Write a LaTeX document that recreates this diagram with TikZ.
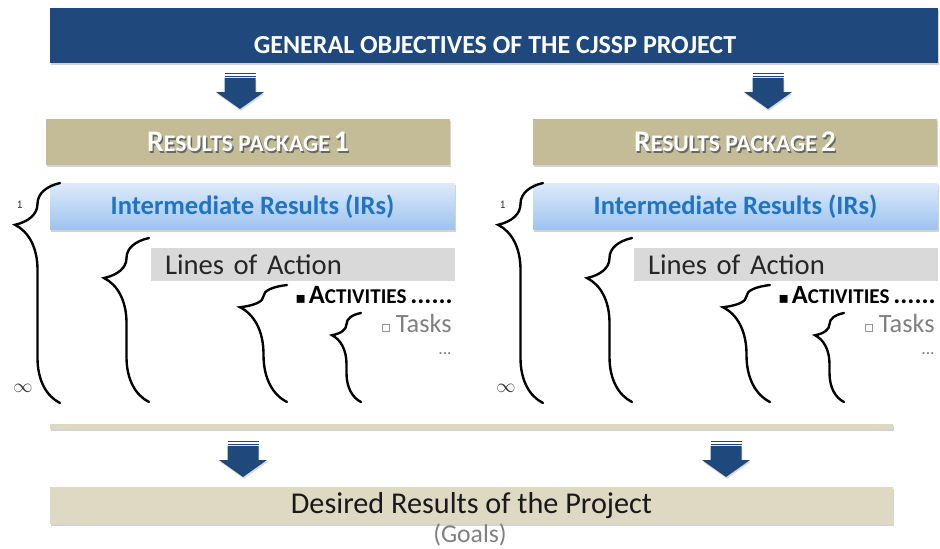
\documentclass[tikz,border=0pt]{standalone}
\usepackage{fontspec}
\setmainfont{Carlito}
\newfontfamily\symfont{DejaVu Sans}
\usepackage{tikz}
\usetikzlibrary{positioning,calc,shadows,decorations.pathreplacing}
\definecolor{objblue}{HTML}{1F497D}
\definecolor{pkgtan}{HTML}{C4BC96}
\definecolor{lighttan}{HTML}{DDD9C3}
\definecolor{irtop}{HTML}{DDEAFB}
\definecolor{irbottom}{HTML}{9DC3EF}
\definecolor{irtext}{HTML}{1F74C6}
\definecolor{loagrey}{HTML}{D9D9D9}
\definecolor{taskgrey}{HTML}{808080}
\newcommand\fsize[1]{\fontsize{#1}{#1}\selectfont}
\newcommand\pkgtitle[1]{\bfseries{\fsize{17}R}{\fsize{13.5}ESULTS PACKAGE} {\fsize{17}#1}}
\tikzset{
  boxshadow/.style={drop shadow={shadow xshift=0.6pt,shadow yshift=-1.3pt,opacity=0.35}},
  objbox/.style ={rectangle,fill=objblue,boxshadow,minimum width=17.76cm,minimum height=1.1cm,inner sep=0pt},
  objtext/.style={text=white,font=\fsize{14.8}\bfseries},
  pkbox/.style  ={rectangle,fill=pkgtan,boxshadow,minimum width=8.08cm,minimum height=0.92cm,inner sep=0pt},
  pktext/.style ={text=white,inner sep=0pt},
  irbox/.style  ={rectangle,top color=irtop,bottom color=irbottom,boxshadow,minimum width=8.1cm,minimum height=0.94cm,
                  inner sep=0pt,text=irtext,font=\fsize{15.1}\bfseries},
  loabox/.style ={rectangle,fill=loagrey,minimum height=0.66cm,inner xsep=0.28cm,inner ysep=0pt,
                  text width=5.52cm,align=left,text=black!85,font=\fsize{16.3}},
  acttext/.style ={anchor=east,inner sep=0pt,text=black},
  tasktext/.style={anchor=east,inner sep=0pt,text=taskgrey,font=\fsize{15}},
  rangelbl/.style={inner sep=0pt,text=black!80},
  barbox/.style ={rectangle,fill=lighttan,boxshadow,minimum width=16.86cm,minimum height=0.1cm,inner sep=0pt},
  goalbox/.style={rectangle,fill=lighttan,boxshadow,minimum width=16.86cm,minimum height=0.74cm,inner sep=0pt,
                  text=black!90,font=\fsize{17.2}},
  goaltext/.style={text=taskgrey,font=\fsize{14.6},inner sep=0pt},
  cbrace/.style args={#1/#2}{decorate,decoration={brace,amplitude=#1,aspect=#2},line width=1.35pt,line cap=round},
  pics/downarr/.style={code={
    \fill[objblue] (-15.5,0) rectangle (15.5,1.3);
    \fill[objblue] (-15.5,2.5) rectangle (15.5,3.8);
    \fill[objblue,drop shadow={shadow xshift=0.5pt,shadow yshift=-1pt,opacity=0.3}]
      (-15.5,4.8) -- (15.5,4.8) -- (15.5,19) -- (24,19) -- (0,36) -- (-24,19) -- (-15.5,19) -- cycle;
  }},
}

\begin{document}
\begin{tikzpicture}[x=0.02cm,y=-0.02cm]
  \useasboundingbox (0,0) rectangle (940,548);

  % objectives banner
  \node[objbox] (obj) at (494,35.5) {};
  \node[objtext] (objt) at (495,45) {GENERAL OBJECTIVES OF THE CJSSP PROJECT};
  \pic at (240,73) {downarr};
  \pic at (768,73) {downarr};

  % the two packages
  \foreach \c/\px in {1/248,2/735} {
    \node[pkbox] (pk\c) at (\px,142) {};
    \node[pktext,text=black!60] (pk\c s) at ([shift={(0.8pt,-0.9pt)}]pk\c.center) {\pkgtitle{\c}};
    \node[pktext] (pk\c t) at (pk\c.center) {\pkgtitle{\c}};
  }

  % nested levels of each package
  \foreach \c/\dx in {1/0,2/483} {
    \begin{scope}[shift={(\dx,0)}]
      \node[irbox] (ir\c) at (252.5,206.5) {Intermediate Results (IRs)};
      \node[loabox] (loa\c) at (303,264.5) {Lines of Action};
      \node[acttext] (act\c) at (453,295)
        {{\symfont\fsize{9}▪}\,\textbf{{\fsize{15}A}{\fsize{12}CTIVITIES} {\fsize{15}......}}};
      \node[tasktext] (task\c) at (452,323) {{\symfont\fsize{9}▫}\,Tasks};
      \node[tasktext,font=\fsize{10}] (more\c) at (452,354) {...};
      \draw[cbrace=0.9cm/0.81] (60,403) -- (60,183);
      \draw[cbrace=0.9cm/0.756] (149,402) -- (149,238);
      \draw[cbrace=0.94cm/0.81] (287,402) -- (287,285);
      \draw[cbrace=0.58cm/0.75] (361,402) -- (361,313);
      \node[rangelbl,font=\ttfamily\fsize{7}] (one\c) at (20,205) {1};
      \node[rangelbl,font=\fsize{11}] (inf\c) at (23,388) {$\infty$};
    \end{scope}
  }

  % results at the bottom
  \node[barbox] (bar) at (471.5,426) {};
  \pic at (243,441) {downarr};
  \pic at (726,441) {downarr};
  \node[goalbox] (goal) at (471.5,505.5) {Desired Results of the Project};
  \node[goaltext] (goals) at (470,535) {(Goals)};
\end{tikzpicture}
\end{document}
